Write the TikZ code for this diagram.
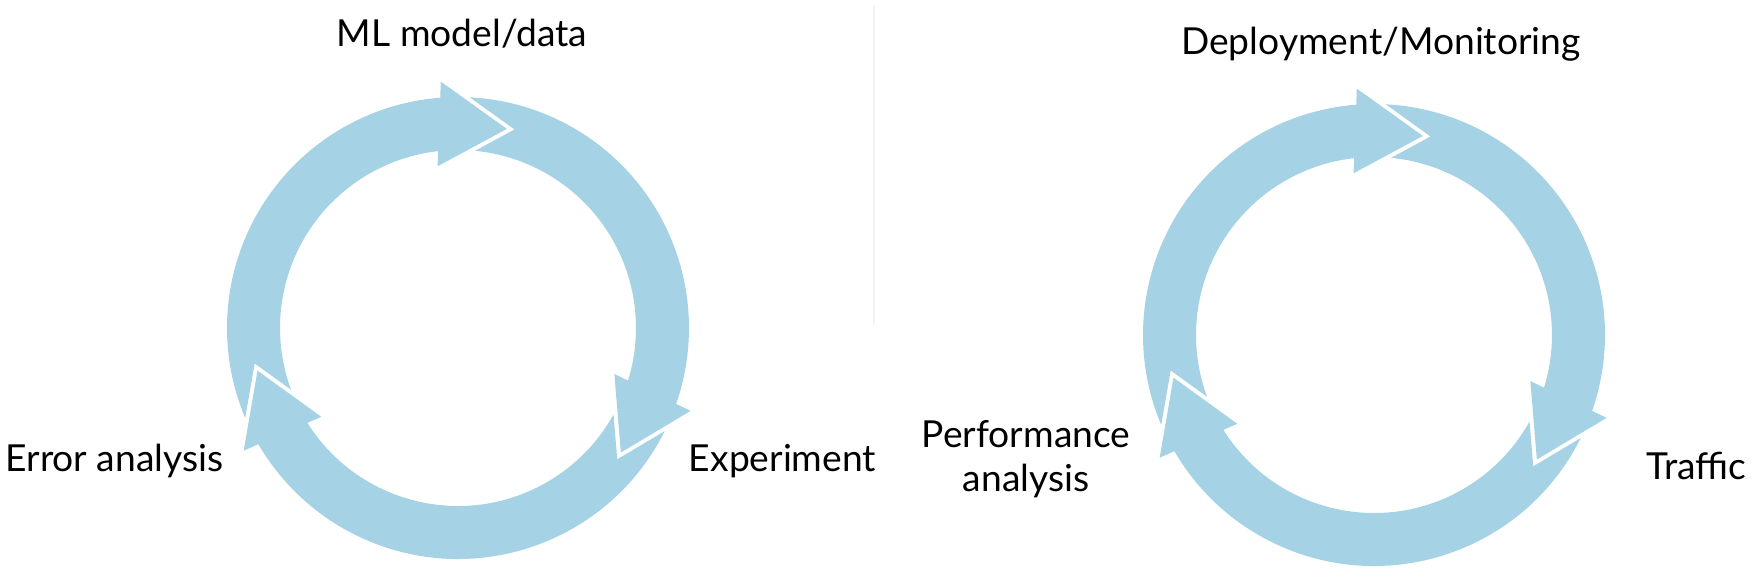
\documentclass[tikz,border=0pt]{standalone}
\usepackage{fontspec}
\setmainfont{Lato}
\definecolor{cyclblue}{HTML}{A5D2E4}

\begin{document}
\begin{tikzpicture}
            \tikzset{x=0.5pt, y=0.5pt}
            \tikzstyle{lbl}=[inner sep=0pt, anchor=base, font=\fontsize{18.6}{22}\selectfont]
            \tikzstyle{seg}=[fill=cyclblue]

            \useasboundingbox (0, 0) rectangle (1752, 578);

            % two cycles of three curved arrows each
            \foreach \cx/\cy in {458/250, 1374/243} {
                \begin{scope}[shift={(\cx, \cy)}]
                    \foreach \p/\n in {76.2/-37.4, -37.4/-168, 192/76.2} {
                        \fill[seg] ({\p+10.9}:231) arc[start angle=\p+10.9, end angle=\n+18.2, radius=231]
                            -- ({\n+17.8}:247) -- (\n:205) -- ({\n+21}:163) -- ({\n+20.2}:178)
                            arc[start angle=\n+20.2, end angle=\p+8.3, radius=178]
                            -- ({\p-2.1}:206.4) -- cycle;
                    }
                \end{scope}
            }

            \draw[black!5, line width=1] (874, 573) -- (874, 253);

            \draw (462, 531)    node[lbl]   (model)     {ML model/data};
            \draw (114.5, 106)  node[lbl]   (error)     {Error analysis};
            \draw (782.5, 106)  node[lbl]   (expt)      {Experiment};
            \draw (1381, 523)   node[lbl]   (deploy)    {Deployment/Monitoring};
            \draw (1026, 86)    node[lbl, align=center] (perf) {Performance\\analysis};
            \draw (1696.5, 98)  node[lbl]   (traffic)   {Traffic};
        \end{tikzpicture}
\end{document}
